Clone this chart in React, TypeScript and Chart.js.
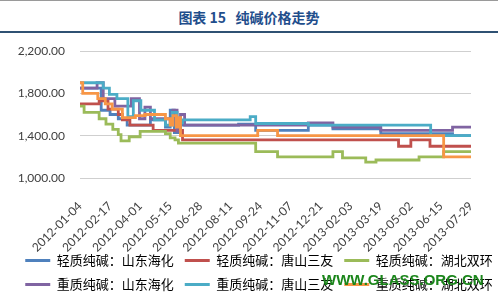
import { useEffect, useRef } from "react";
import { Chart, registerables } from "chart.js";

Chart.register(...registerables);

// Day offsets counted from the first date on the axis
const startDate = "2012-01-04";
const tickLabels = [
  "2012-01-04", "2012-02-17", "2012-04-01", "2012-05-15", "2012-06-28",
  "2012-08-11", "2012-09-24", "2012-11-07", "2012-12-21", "2013-02-03",
  "2013-03-19", "2013-05-02", "2013-06-15", "2013-07-29",
];
const seriesNames = [
  "轻质纯碱：山东海化",
  "轻质纯碱：唐山三友",
  "轻质纯碱：湖北双环",
  "重质纯碱：山东海化",
  "重质纯碱：唐山三友",
  "重质纯碱：湖北双环",
];
const yTicks = [1000, 1400, 1800, 2200];

// [day offset, price] — price changes from that day on
const lightShandong: [number, number][] = [
  [0, 1850], [31, 1640], [44, 1600], [56, 1560], [69, 1500], [103, 1550], [125, 1480],
  [132, 1640], [138, 1430], [144, 1530], [150, 1500], [232, 1510], [257, 1450],
  [334, 1500], [370, 1465], [440, 1420], [545, 1400], [572, 1400],
];
const lightTangshan: [number, number][] = [
  [0, 1700], [28, 1730], [41, 1650], [56, 1600], [62, 1550], [73, 1500], [107, 1450],
  [150, 1360], [466, 1300], [484, 1360], [512, 1300], [572, 1300],
];
const lightHubei: [number, number][] = [
  [0, 1680], [6, 1620], [28, 1560], [38, 1510], [48, 1460], [56, 1410], [60, 1350],
  [72, 1390], [88, 1440], [125, 1420], [132, 1380], [139, 1360], [144, 1330],
  [257, 1250], [289, 1200], [370, 1250], [384, 1190], [418, 1150], [433, 1170],
  [496, 1200], [532, 1250], [572, 1250],
];
const heavyShandong: [number, number][] = [
  [0, 1850], [25, 1900], [34, 1750], [51, 1680], [75, 1750], [87, 1560], [95, 1670],
  [103, 1560], [132, 1520], [136, 1640], [142, 1440], [147, 1600], [153, 1500],
  [334, 1520], [370, 1480], [440, 1450], [545, 1480], [572, 1480],
];
const heavyTangshan: [number, number][] = [
  [0, 1900], [34, 1850], [43, 1790], [54, 1750], [70, 1580], [78, 1730], [89, 1640],
  [109, 1550], [125, 1500], [135, 1620], [142, 1520], [150, 1550], [249, 1580],
  [257, 1515], [334, 1500], [513, 1400], [572, 1400],
];
const heavyHubei: [number, number][] = [
  [0, 1900], [4, 1800], [26, 1750], [37, 1700], [47, 1650], [62, 1570], [81, 1590],
  [95, 1600], [125, 1560], [132, 1500], [136, 1590], [141, 1480], [144, 1570],
  [147, 1400], [260, 1450], [289, 1400], [532, 1200], [572, 1200],
];

const allSeries = [lightShandong, lightTangshan, lightHubei, heavyShandong, heavyTangshan, heavyHubei];
const colors = ["#4F81BD", "#C0504D", "#9BBB59", "#8064A2", "#4BACC6", "#F79646"];

const DAY = 86400000;
const dayOf = (d: string) => Math.round((Date.parse(d) - Date.parse(startDate)) / DAY);

// nudges the legend block to the right and lets the rotated date labels
// run slightly past the axis box, as in the source image
const layoutTweaks = {
  id: "layoutTweaks",
  afterLayout(chart: any) {
    const l = chart.legend;
    if (l) {
      l.left += 10;
      l.right += 10;
    }
    const x = chart.scales.x;
    if (x) x.bottom += 10;
  },
};

export default function App() {
  const ref = useRef<HTMLCanvasElement | null>(null);

  useEffect(() => {
    if (!ref.current) return;
    const tickDays = tickLabels.map(dayOf);
    const chart = new Chart(ref.current, {
      type: "line",
      plugins: [layoutTweaks],
      data: {
        datasets: allSeries.map((s, i) => ({
          label: seriesNames[i],
          data: s.map(([x, y]) => ({ x, y })),
          borderColor: colors[i],
          backgroundColor: colors[i],
          borderWidth: 2.8,
          pointRadius: 0,
          stepped: "before" as const,
          fill: false,
          order: allSeries.length - i,
        })),
      },
      options: {
        animation: false,
        responsive: false,
        layout: { padding: { left: 0, right: 0, top: 51, bottom: 0 } },
        plugins: {
          tooltip: { enabled: false },
          legend: {
            position: "bottom",
            labels: {
              boxWidth: 25,
              boxHeight: 3,
              padding: 11,
              color: "#404040",
              font: { family: "'Noto Sans CJK SC'", size: 13 },
              sort: (a: any, b: any) => a.datasetIndex - b.datasetIndex,
              generateLabels: (c: any) =>
                c.data.datasets.map((d: any, i: number) => ({
                  text: d.label,
                  fillStyle: colors[i],
                  strokeStyle: colors[i],
                  lineWidth: 0,
                  datasetIndex: i,
                  hidden: false,
                })),
            },
          },
        },
        scales: {
          x: {
            type: "linear",
            min: 0,
            max: tickDays[tickDays.length - 1],
            grid: { display: false },
            border: { display: false },
            afterBuildTicks: (s: any) => {
              s.ticks = tickDays.map((v) => ({ value: v }));
            },
            afterFit: (s: any) => {
              s.height = 65;
            },
            ticks: {
              autoSkip: false,
              maxRotation: 45,
              minRotation: 45,
              padding: 13,
              color: "#404040",
              font: { family: "Lato", size: 12 },
              callback: (_v: any, i: number) => tickLabels[i],
            },
          },
          y: {
            min: 1000,
            max: 2200,
            afterBuildTicks: (s: any) => {
              s.ticks = yTicks.map((v) => ({ value: v }));
            },
            afterFit: (s: any) => {
              s.width = 80;
            },
            grid: { color: "#cfcfcf", lineWidth: 1, drawTicks: false },
            border: { display: false },
            ticks: {
              padding: 15,
              color: "#404040",
              font: { family: "Lato", size: 12 },
              callback: (v: any) =>
                Number(v).toLocaleString("en-US", { minimumFractionDigits: 2, maximumFractionDigits: 2 }),
            },
          },
          y2: {
            position: "right",
            display: true,
            grid: { display: false },
            border: { display: false },
            ticks: { display: false },
            afterFit: (s: any) => {
              s.width = 27;
            },
          },
        },
      },
    } as any);
    return () => chart.destroy();
  }, []);

  return (
    <div style={{ position: "fixed", left: 0, top: 0, width: 498, height: 301, background: "#fff", overflow: "hidden" }}>
      <div style={{ position: "absolute", left: 0, top: 0, width: 498, height: 1, background: "#9a9a9a" }} />
      <div
        style={{
          position: "absolute", left: 0, top: 7, width: 498, textAlign: "center",
          fontFamily: "'Noto Sans CJK SC'", fontWeight: 700, fontSize: 14, lineHeight: "20px", color: "#1F4E8C",
          whiteSpace: "pre",
        }}
      >
        {"图表 15   纯碱价格走势"}
      </div>
      <div style={{ position: "absolute", left: 0, top: 31, width: 498, height: 2, background: "#2F5173" }} />
      <canvas ref={ref} width={498} height={301} style={{ position: "absolute", left: 0, top: 0 }} />
      <div
        style={{
          position: "absolute", left: 322, top: 272, fontFamily: "'Liberation Sans'", fontWeight: 700,
          fontSize: 15, lineHeight: "16px", color: "#1B861B", letterSpacing: 0,
        }}
      >
        WWW.GLASS.ORG.CN
      </div>
    </div>
  );
}
